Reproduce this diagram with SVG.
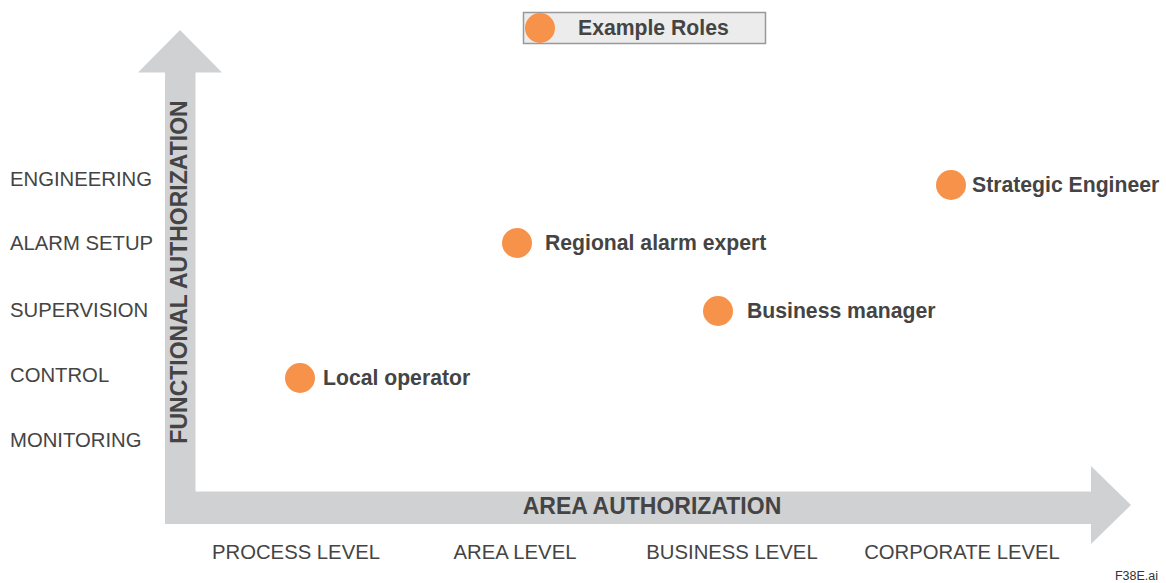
<svg xmlns="http://www.w3.org/2000/svg" width="1166" height="583" viewBox="0 0 1166 583">
<style>
.lvl{font-family:"Liberation Sans",Arial,sans-serif;font-size:20.3px;fill:#444;}
.role{font-family:"Liberation Sans",Arial,sans-serif;font-size:21.2px;font-weight:bold;fill:#444;}
.axis{font-family:"Liberation Sans",Arial,sans-serif;font-size:23px;font-weight:bold;fill:#444;}
.dot{fill:#f7924a;}
</style>
<rect width="1166" height="583" fill="#fff"/>
<g id="axes">
<path d="M180,30 L222,72.5 L195.5,72.5 L195.5,491.5 L1091,491.5 L1091,466 L1131,505 L1091,544 L1091,524 L165,524 L165,72.5 L138,72.5 Z" fill="#d0d1d3"/>
<text class="axis" x="652" y="514" text-anchor="middle">AREA AUTHORIZATION</text>
<text class="axis" transform="translate(187,272) rotate(-90)" text-anchor="middle">FUNCTIONAL AUTHORIZATION</text>
</g>
<g id="legend">
<rect x="523.5" y="12.5" width="242" height="31" fill="#ececec" stroke="#999" stroke-width="1.5"/>
<circle class="dot" cx="540" cy="28" r="15"/>
<text class="role" x="578" y="35">Example Roles</text>
</g>
<g id="y-levels">
<text class="lvl" x="10" y="186">ENGINEERING</text>
<text class="lvl" x="10" y="250">ALARM SETUP</text>
<text class="lvl" x="10" y="317">SUPERVISION</text>
<text class="lvl" x="10" y="382">CONTROL</text>
<text class="lvl" x="10" y="447">MONITORING</text>
</g>
<g id="x-levels">
<text class="lvl" x="296" y="559" text-anchor="middle">PROCESS LEVEL</text>
<text class="lvl" x="515" y="559" text-anchor="middle">AREA LEVEL</text>
<text class="lvl" x="732" y="559" text-anchor="middle">BUSINESS LEVEL</text>
<text class="lvl" x="962" y="559" text-anchor="middle">CORPORATE LEVEL</text>
</g>
<g id="role-strategic">
<circle class="dot" cx="951" cy="185" r="15"/>
<text class="role" x="972" y="192">Strategic Engineer</text>
</g>
<g id="role-regional">
<circle class="dot" cx="517" cy="243" r="15"/>
<text class="role" x="545" y="250">Regional alarm expert</text>
</g>
<g id="role-business">
<circle class="dot" cx="718" cy="311" r="15"/>
<text class="role" x="747" y="318">Business manager</text>
</g>
<g id="role-local">
<circle class="dot" cx="300" cy="378" r="15"/>
<text class="role" x="323" y="385">Local operator</text>
</g>
<text x="1158" y="580" text-anchor="end" font-family="'Liberation Sans',Arial,sans-serif" font-size="12.5" fill="#333">F38E.ai</text>
</svg>
